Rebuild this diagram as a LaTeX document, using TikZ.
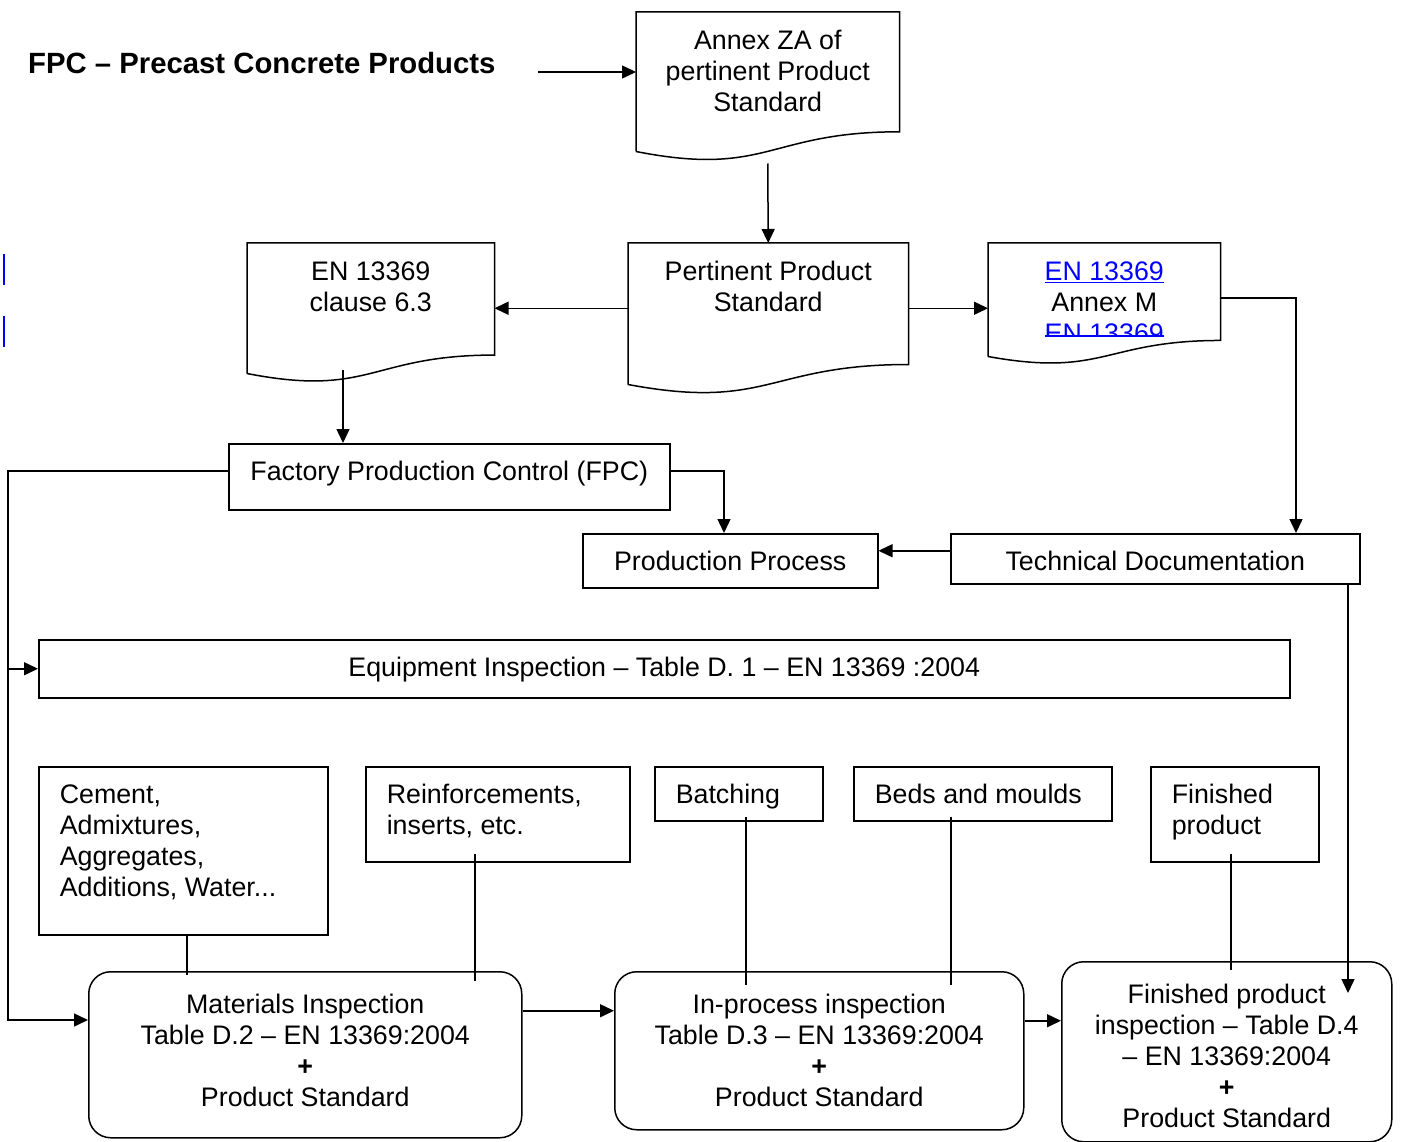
\documentclass[tikz,border=0pt]{standalone}
\usepackage{fontspec}
\setmainfont{Liberation Sans}
\usepackage{xcolor}
\usetikzlibrary{arrows.meta,calc}
\tikzset{
	block/.style={draw, line width=1.5pt, anchor=north west, inner sep=0pt,
			font=\fontsize{26.8}{31}\selectfont},
	doc/.style={block, draw=none},
	rblock/.style={block, rounded corners=22pt},
	wire/.style={line width=1.5pt}
}
\newsavebox{\strikebox}
\newcommand{\strike}[1]{\sbox\strikebox{#1}\rlap{\rule[6pt]{\wd\strikebox}{1.5pt}}\usebox\strikebox}
\newcommand{\midtext}[4][37]{\parbox[t][#3pt][t]{#2pt}{\centering\rule{0pt}{#1pt}#4}}
\newcommand{\lefttext}[3]{\parbox[t][#2pt][t]{#1pt}{\raggedright\leftskip=21pt\rule{0pt}{37pt}#3}}
\newcommand{\docedge}[1]{%
	\draw[wire] (#1.south west) -- (#1.north west) -- (#1.north east)
		-- ($(#1.south east)!.1413!(#1.north east)$)
		.. controls ($(#1.south)!.1413!(#1.north)$) and ($(#1.south)!-.1858!(#1.north)$)
		.. (#1.south west);}

\begin{document}
\begin{tikzpicture}[x=1pt, y=-1pt, >={Triangle[length=14pt, width=13pt]}]
			\useasboundingbox (0,0) rectangle (1401,1142);

			\node[anchor=west, inner sep=0pt, font=\fontsize{29.3}{35}\selectfont\bfseries] (title) at (28,63) {FPC – Precast Concrete Products};
			\draw[blue, line width=2.5pt]	(4,254) -- (4,285)
								(4,316) -- (4,347);

			\node[doc] (annexza) at (636,12) {\midtext{262}{138}{Annex ZA of\\ pertinent Product\\ Standard}};
			\node[doc] (pertinent) at (628,243) {\midtext{279}{140}{Pertinent Product\\ Standard}};
			\node[doc] (clause) at (247,243) {\midtext{246}{129}{EN 13369\\ clause 6.3}};
			\begin{scope}
				\clip (988,243) rectangle (1219,336);
				\node[doc] (annexm) at (988,243) {\midtext{231}{112}{\textcolor{blue}{\underline{EN 13369}}\\ Annex M\\ \textcolor{blue}{\strike{EN 13369}}}};
			\end{scope}
			\docedge{annexza}
			\docedge{pertinent}
			\docedge{clause}
			\docedge{annexm}

			\node[block] (fpc) at (228,443) {\midtext{441}{66}{Factory Production Control (FPC)}};
			\node[block] (prodproc) at (582,533) {\midtext{295}{54}{Production Process}};
			\node[block] (techdoc) at (950,533) {\midtext{409}{50}{Technical Documentation}};
			\node[block] (equip) at (38,639) {\midtext{1251}{58}{Equipment Inspection – Table D. 1 – EN 13369 :2004}};

			\node[block] (cement) at (38,766) {\lefttext{289}{168}{Cement,\\ Admixtures,\\ Aggregates,\\ Additions, Water...}};
			\node[block] (reinf) at (365,766) {\lefttext{264}{95}{Reinforcements,\\ inserts, etc.}};
			\node[block] (batch) at (654,766) {\lefttext{168}{54}{Batching}};
			\node[block] (beds) at (853,766) {\lefttext{258}{54}{Beds and moulds}};
			\node[block] (finprod) at (1150,766) {\lefttext{168}{95}{Finished\\ product}};

			\node[rblock] (matinsp) at (88,971) {\midtext[42]{433}{166}{Materials Inspection\\ Table D.2 – EN 13369:2004\\ \textbf{+}\\ Product Standard}};
			\node[rblock] (inproc) at (614,971) {\midtext[42]{409}{158}{In-process inspection\\ Table D.3 – EN 13369:2004\\ \textbf{+}\\ Product Standard}};
			\node[rblock] (fpi) at (1061,961) {\midtext[42]{330}{180}{Finished product\\ inspection – Table D.4\\ – EN 13369:2004\\ \textbf{+}\\ Product Standard}};

			\coordinate (tarrow) at (538,72);
			\coordinate (cdrop) at (343,370);
			\coordinate (mturn) at (1296,298);
			\coordinate (fpcturn) at (724,471);
			\coordinate (spinetop) at (8,471);
			\coordinate (spinebot) at (8,1020);
			\coordinate (tdend) at (1348,993);

			\draw[wire, ->]	(tarrow) -- (tarrow -| annexza.west);
			\draw[wire, ->]	([yshift=-12pt]annexza.south) -- (pertinent.north);
			\draw[wire, ->]	(pertinent.west |- clause.east) -- (clause.east);
			\draw[wire, ->]	(pertinent.east |- clause.east) -- (annexm.west |- clause.east);
			\draw[wire, ->]	(annexm.east |- mturn) -- (mturn) -- (mturn |- techdoc.north);
			\draw[wire, ->]	(cdrop) -- (cdrop |- fpc.north);
			\draw[wire, ->]	(fpc.east |- fpcturn) -- (fpcturn) -- (fpcturn |- prodproc.north);
			\draw[wire, ->]	([yshift=8pt]techdoc.west) -- ([yshift=8pt]techdoc.west -| prodproc.east);
			\draw[wire, ->]	(fpc.west |- spinetop) -- (spinetop) -- (spinebot) -- (spinebot -| matinsp.west);
			\draw[wire, ->]	(spinetop |- equip.west) -- (equip.west);
			\draw[wire, ->]	(techdoc.south -| tdend) -- (tdend);
			\draw[wire, ->]	([yshift=44pt]matinsp.east) -- ([yshift=44pt]matinsp.east -| inproc.west);
			\draw[wire, ->]	([yshift=30pt]inproc.east) -- ([yshift=30pt]inproc.east -| fpi.west);

			\draw[wire, shorten >=-4pt]	([xshift=3.5pt]cement.south) -- ([xshift=3.5pt]cement.south |- matinsp.north);
			\draw[wire, shorten <=-9pt, shorten >=-10pt]	([xshift=-23pt]reinf.south) -- ([xshift=-23pt]reinf.south |- matinsp.north);
			\draw[wire, shorten <=-5pt, shorten >=-14pt]	([xshift=7pt]batch.south) -- ([xshift=7pt]batch.south |- inproc.north);
			\draw[wire, shorten <=-5pt, shorten >=-14pt]	([xshift=-32pt]beds.south) -- ([xshift=-32pt]beds.south |- inproc.north);
			\draw[wire, shorten <=-9pt, shorten >=-9pt]	([xshift=-4pt]finprod.south) -- ([xshift=-4pt]finprod.south |- fpi.north);
		\end{tikzpicture}
\end{document}
